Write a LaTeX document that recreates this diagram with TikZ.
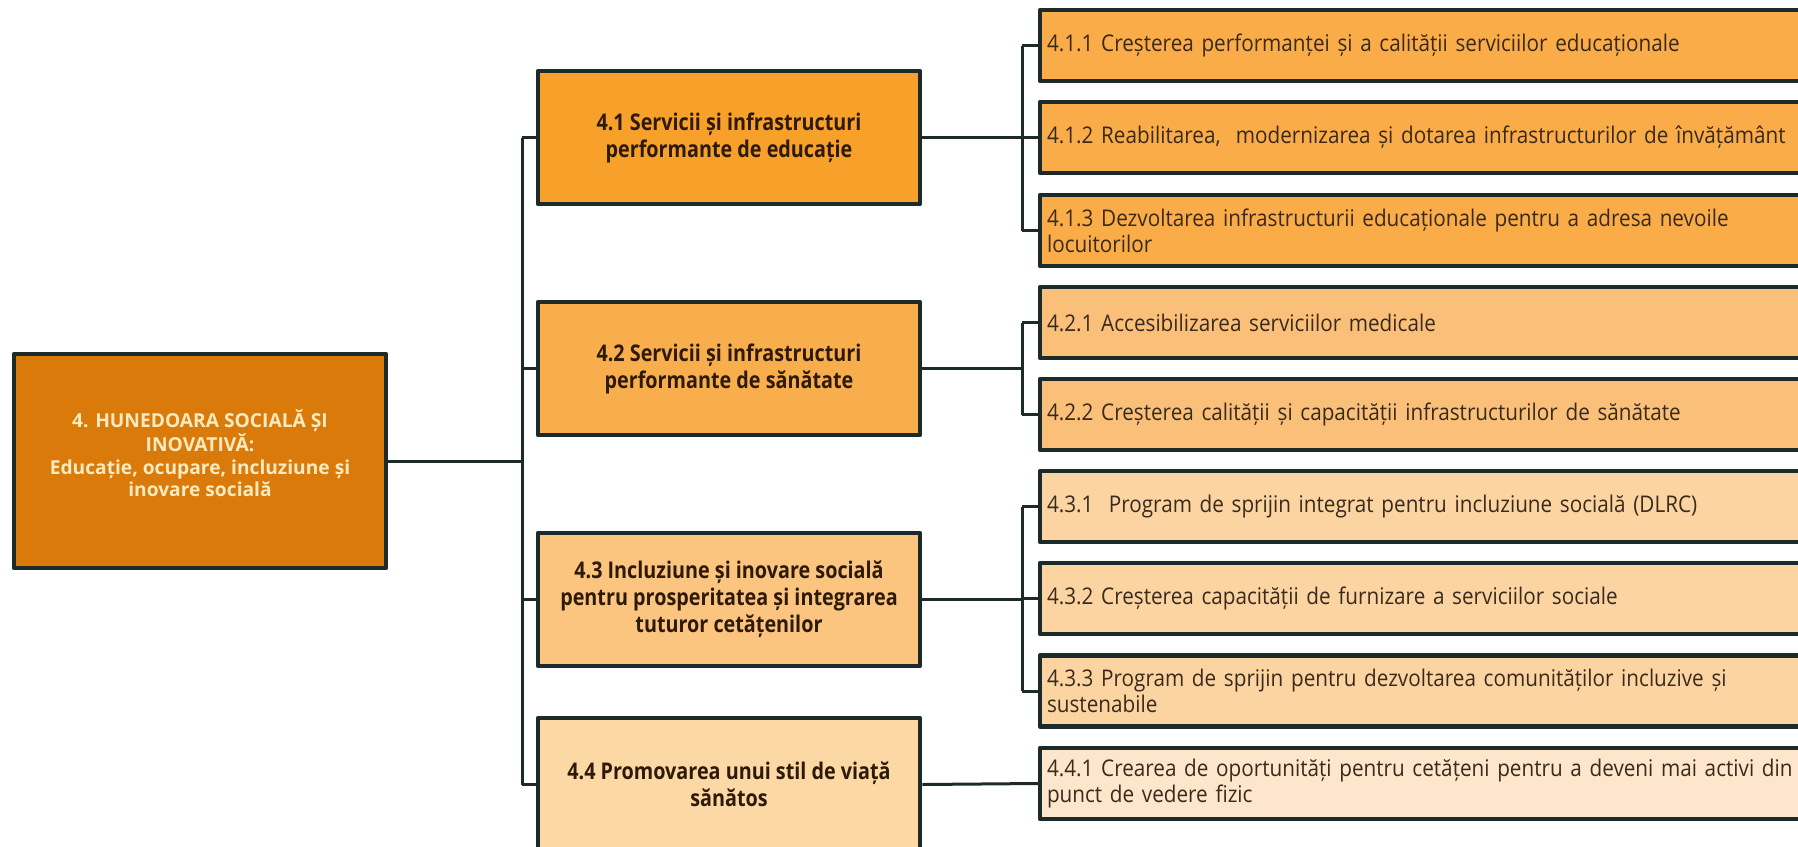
\documentclass[tikz,border=0pt]{standalone}
\usepackage{fontspec}
\setmainfont{Open Sans}
\newfontfamily\leaffont[FakeStretch=0.9]{Open Sans}
\newfontfamily\boxfont[FakeStretch=0.86]{Open Sans}
\definecolor{ink}{HTML}{1C2A2A}
\definecolor{cream}{HTML}{FDEBC0}
\definecolor{brn}{HTML}{2E1A08}
\definecolor{txt}{HTML}{3A2A1C}
\definecolor{rootor}{HTML}{D97A0B}
\definecolor{lvla}{HTML}{F7A02A}
\definecolor{lvlb}{HTML}{F9AE4E}
\definecolor{lvlc}{HTML}{FBC47F}
\definecolor{lvld}{HTML}{FCD8A5}
\definecolor{leafa}{HTML}{F9AC48}
\definecolor{leafb}{HTML}{FAC07A}
\definecolor{leafc}{HTML}{FBD4A2}
\definecolor{leafd}{HTML}{FDE6CB}
\begin{document}
\begin{tikzpicture}[x=0.5pt,y=-0.5pt,line join=round,
	box/.style={draw=ink,line width=2.25pt,inner sep=0pt,align=center},
	root/.style={box,fill=rootor,text=cream,minimum width=186pt,minimum height=107pt,font=\bfseries\fontsize{9.6}{9.5}\selectfont},
	lvl/.style={box,text=brn,minimum width=191pt,minimum height=66.5pt,font=\boxfont\bfseries\fontsize{11.5}{13.5}\selectfont},
	leaf/.style={draw=ink,line width=2.25pt,text width=380pt,align=left,inner xsep=3.5pt,inner ysep=0pt,minimum height=35.5pt,text=txt,font=\leaffont\fontsize{11.5}{13}\selectfont},
	link/.style={draw=ink,line width=1.5pt}]
	\useasboundingbox (0,0) rectangle (1798,846);
	\clip (0,0) rectangle (1798,846);
	\coordinate (trunk) at (522,0);
	\coordinate (brk) at (1022,0);
	\node[root] (main) at (200,461) {4. HUNEDOARA SOCIALĂ ȘI\\INOVATIVĂ:\\[2pt]Educație, ocupare, incluziune și\\inovare socială\\[-1.5pt]};
	\node[lvl,fill=lvla] (b41) at (729,137.5) {4.1 Servicii și infrastructuri\\performante de educație};
	\node[lvl,fill=lvlb] (b42) at (729,368.5) {4.2 Servicii și infrastructuri\\performante de sănătate};
	\node[lvl,fill=lvlc] (b43) at (729,599.5) {4.3 Incluziune și inovare socială\\pentru prosperitatea și integrarea\\tuturor cetățenilor};
	\node[lvl,fill=lvld] (b44) at (729,784.5) {4.4 Promovarea unui stil de viață\\sănătos};
	\node[leaf,fill=leafa] (l411) at (1427,45.5) {4.1.1 Creșterea performanței și a calității serviciilor educaționale};
	\node[leaf,fill=leafa] (l412) at (1427,137.5) {4.1.2 Reabilitarea,~ modernizarea și dotarea infrastructurilor de învățământ};
	\node[leaf,fill=leafa] (l413) at (1427,230.5) {4.1.3 Dezvoltarea infrastructurii educaționale pentru a adresa nevoile\\locuitorilor};
	\node[leaf,fill=leafb] (l421) at (1427,322.5) {4.2.1 Accesibilizarea serviciilor medicale};
	\node[leaf,fill=leafb] (l422) at (1427,414.5) {4.2.2 Creșterea calității și capacității infrastructurilor de sănătate};
	\node[leaf,fill=leafc] (l431) at (1427,506.5) {4.3.1~ Program de sprijin integrat pentru incluziune socială (DLRC)};
	\node[leaf,fill=leafc] (l432) at (1427,598.5) {4.3.2 Creșterea capacității de furnizare a serviciilor sociale};
	\node[leaf,fill=leafc] (l433) at (1427,691) {4.3.3 Program de sprijin pentru dezvoltarea comunităților incluzive și\\sustenabile};
	\node[leaf,fill=leafd] (l441) at (1427,783.5) {4.4.1 Crearea de oportunități pentru cetățeni pentru a deveni mai activi din\\punct de vedere fizic};
	\draw[link] (main.east) -- (main.east -| trunk);
	\draw[link] (b41.west -| trunk) -- (b44.west -| trunk);
	\foreach \b in {b41,b42,b43,b44} \draw[link] (\b.west -| trunk) -- (\b.west);
	\foreach \b/\f/\l in {b41/l411/l413,b42/l421/l422,b43/l431/l433} \draw[link] (\b.east) -- (\b.east -| brk) (\f.west -| brk) -- (\l.west -| brk);
	\foreach \l in {l411,l412,l413,l421,l422,l431,l432,l433} \draw[link] (\l.west -| brk) -- (\l.west);
	\draw[link] (b44.east) -- (l441.west);
\end{tikzpicture}
\end{document}
